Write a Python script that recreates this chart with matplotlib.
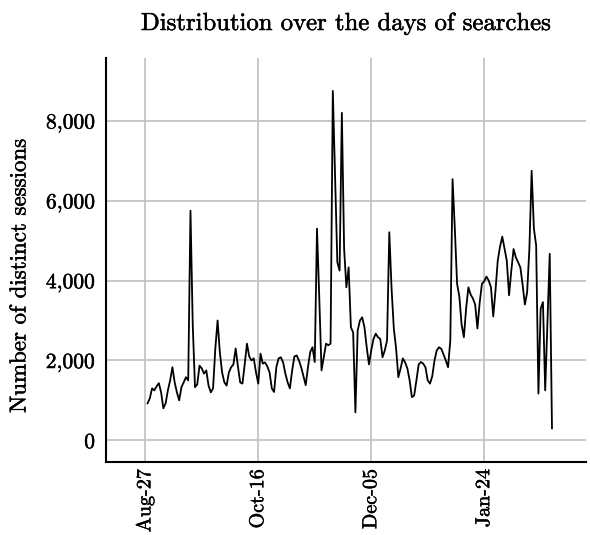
import numpy as np
import pandas as pd
import matplotlib
matplotlib.use("Agg")
import matplotlib.pyplot as plt
import matplotlib.dates as mdates
import matplotlib.patheffects as pe
from matplotlib.ticker import FuncFormatter

# daily counts of distinct sessions, starting Aug-28
start_day = "2016-08-28"
sessions = [
    925, 1050, 1300, 1250, 1350, 1430, 1200, 800, 925, 1250,
    1500, 1830, 1450, 1200, 1000, 1330, 1450, 1580, 1500, 5750,
    2900, 1330, 1400, 1870, 1800, 1670, 1750, 1370, 1200, 1300,
    2300, 3000, 2200, 1700, 1450, 1370, 1700, 1830, 1900, 2300,
    1850, 1450, 1420, 1900, 2420, 2100, 2000, 2050, 1700, 1420,
    2170, 1920, 1950, 1850, 1700, 1300, 1210, 1830, 2050, 2080,
    1950, 1670, 1450, 1300, 1750, 2100, 2125, 2000, 1830, 1600,
    1380, 1830, 2210, 2330, 1960, 5300, 3580, 1750, 2080, 2420,
    2380, 2420, 8750, 6600, 4460, 4250, 8200, 4800, 3830, 4330,
    2830, 2700, 700, 2750, 3000, 3080, 2830, 2330, 1900, 2250,
    2540, 2670, 2580, 2540, 2080, 2250, 2500, 5210, 3800, 2800,
    2300, 1580, 1800, 2050, 1950, 1800, 1500, 1080, 1120, 1500,
    1900, 1960, 1920, 1830, 1500, 1420, 1600, 2000, 2250, 2330,
    2290, 2150, 2000, 1830, 2500, 6540, 5300, 3920, 3600, 2900,
    2580, 3300, 3830, 3650, 3550, 3400, 2800, 3450, 3920, 3980,
    4100, 4000, 3830, 3100, 3750, 4500, 4850, 5100, 4800, 4500,
    3630, 4250, 4790, 4580, 4460, 4330, 3900, 3400, 3700, 4800,
    6750, 5300, 4880, 1170, 3300, 3460, 1250, 3000, 4670, 300,
]
days = pd.date_range(start_day, periods=len(sessions), freq="D")

tick_days = pd.to_datetime(["2016-08-27", "2016-10-16", "2016-12-05", "2017-01-24"])
y_ticks = [0, 2000, 4000, 6000, 8000]

plt.rcParams["font.family"] = "serif"
plt.rcParams["font.serif"] = ["cmr10"]
plt.rcParams["mathtext.fontset"] = "cm"
plt.rcParams["axes.formatter.use_mathtext"] = True

fig = plt.figure(figsize=(5.9, 5.35), dpi=100)
ax = fig.add_axes([0.18, 0.136, 0.813, 0.756])

ax.plot(days, sessions, color="black", linewidth=1.3)

ax.set_xlim(pd.Timestamp("2016-08-27") - pd.Timedelta(days=17.3),
            pd.Timestamp("2016-08-27") + pd.Timedelta(days=195))
ax.set_ylim(-550, 9580)

ax.set_xticks(tick_days)
ax.xaxis.set_major_formatter(mdates.DateFormatter("%b-%d"))
ax.set_yticks(y_ticks)
ax.yaxis.set_major_formatter(FuncFormatter(lambda v, p: f"{int(v):,}"))

ax.grid(True, color="#c4c4c4", linewidth=1.3)
ax.set_axisbelow(True)
for side in ["top", "right"]:
    ax.spines[side].set_visible(False)
for side in ["left", "bottom"]:
    ax.spines[side].set_linewidth(1.5)

ax.tick_params(axis="both", length=0)
ax.tick_params(axis="x", labelrotation=90, labelsize=14.5, pad=5)
ax.tick_params(axis="y", labelsize=15.5, pad=8)

ax.set_ylabel("Number of distinct sessions", fontsize=16.5)
ax.yaxis.set_label_coords(-0.16, 0.46)
ax.set_title("Distribution over the days of searches", fontsize=17.8, pad=20)

# slightly heavier strokes for the text
heavy = [pe.withStroke(linewidth=0.35, foreground="black")]
for t in ax.get_xticklabels() + ax.get_yticklabels() + [ax.yaxis.label, ax.title]:
    t.set_path_effects(heavy)

fig.savefig("out.png", dpi=100)
